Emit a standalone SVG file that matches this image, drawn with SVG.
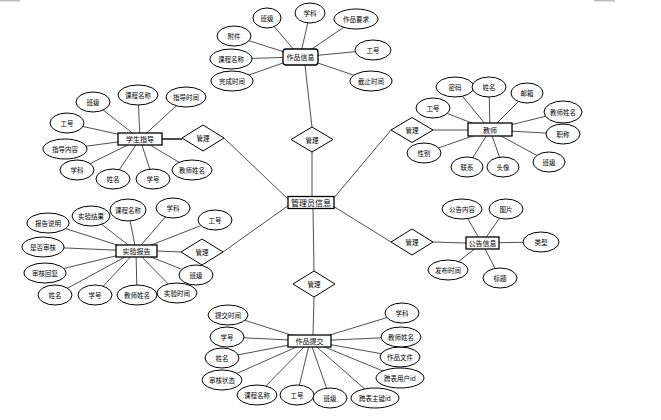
<svg xmlns="http://www.w3.org/2000/svg" width="661" height="420" viewBox="0 0 661 420">
<style>
text{font-family:"Noto Sans CJK SC","Noto Sans",sans-serif;font-size:6.5px;text-anchor:middle;dominant-baseline:central;fill:#000}
.t{font-size:7px}
.tb{font-size:8px}
.a{fill:#fff;stroke:#000;stroke-width:1}
.e{fill:#fff;stroke:#000;stroke-width:1.3}
.c line{stroke:#222;stroke-width:0.8}
.m{stroke:#bbb;stroke-width:2}
</style>
<line class="m" x1="0" y1="0.5" x2="20" y2="0.5"/>
<line class="m" x1="594" y1="0.5" x2="615" y2="0.5"/>
<g class="c" id="connectors">
<line x1="300" y1="57" x2="267" y2="18"/>
<line x1="300" y1="57" x2="310" y2="13"/>
<line x1="300" y1="57" x2="356" y2="19"/>
<line x1="300" y1="57" x2="373" y2="50"/>
<line x1="300" y1="57" x2="371" y2="81"/>
<line x1="300" y1="57" x2="234" y2="36"/>
<line x1="300" y1="57" x2="231" y2="59"/>
<line x1="300" y1="57" x2="232" y2="81"/>
<line x1="305" y1="65" x2="312" y2="127"/>
<line x1="312" y1="152" x2="312" y2="197"/>
<line x1="490" y1="130" x2="433" y2="108"/>
<line x1="490" y1="130" x2="455" y2="87"/>
<line x1="490" y1="130" x2="489" y2="87"/>
<line x1="490" y1="130" x2="527" y2="93"/>
<line x1="490" y1="130" x2="563" y2="112"/>
<line x1="490" y1="130" x2="563" y2="134"/>
<line x1="490" y1="130" x2="549" y2="162"/>
<line x1="490" y1="130" x2="503" y2="167"/>
<line x1="490" y1="130" x2="467" y2="167"/>
<line x1="490" y1="130" x2="424" y2="153"/>
<line x1="433" y1="130" x2="468" y2="130"/>
<line x1="391" y1="130" x2="333" y2="199"/>
<line x1="140" y1="139" x2="93" y2="102"/>
<line x1="140" y1="139" x2="138" y2="95"/>
<line x1="140" y1="139" x2="186" y2="97"/>
<line x1="140" y1="139" x2="67" y2="123"/>
<line x1="140" y1="139" x2="65" y2="149"/>
<line x1="140" y1="139" x2="77" y2="170"/>
<line x1="140" y1="139" x2="113" y2="179"/>
<line x1="140" y1="139" x2="153" y2="179"/>
<line x1="140" y1="139" x2="192" y2="170"/>
<line x1="162" y1="139" x2="182" y2="139" style="stroke-width:1.6"/>
<line x1="224" y1="138" x2="289" y2="200"/>
<line x1="136" y1="251" x2="91" y2="216"/>
<line x1="136" y1="251" x2="128" y2="210"/>
<line x1="136" y1="251" x2="173" y2="208"/>
<line x1="136" y1="251" x2="215" y2="220"/>
<line x1="136" y1="251" x2="48" y2="223"/>
<line x1="136" y1="251" x2="43" y2="247"/>
<line x1="136" y1="251" x2="45" y2="273"/>
<line x1="136" y1="251" x2="55" y2="295"/>
<line x1="136" y1="251" x2="95" y2="295"/>
<line x1="136" y1="251" x2="137" y2="295"/>
<line x1="136" y1="251" x2="177" y2="293"/>
<line x1="136" y1="251" x2="196" y2="275"/>
<line x1="157" y1="251" x2="181" y2="252"/>
<line x1="223" y1="252" x2="289" y2="205"/>
<line x1="310" y1="341" x2="228" y2="315"/>
<line x1="310" y1="341" x2="227" y2="337"/>
<line x1="310" y1="341" x2="222" y2="358"/>
<line x1="310" y1="341" x2="222" y2="380"/>
<line x1="310" y1="341" x2="257" y2="395"/>
<line x1="310" y1="341" x2="297" y2="395"/>
<line x1="310" y1="341" x2="330" y2="398"/>
<line x1="310" y1="341" x2="375" y2="398"/>
<line x1="310" y1="341" x2="400" y2="378"/>
<line x1="310" y1="341" x2="400" y2="357"/>
<line x1="310" y1="341" x2="401" y2="337"/>
<line x1="310" y1="341" x2="402" y2="313"/>
<line x1="313" y1="335" x2="314" y2="297"/>
<line x1="314" y1="271" x2="313" y2="208"/>
<line x1="482" y1="243" x2="462" y2="209"/>
<line x1="482" y1="243" x2="506" y2="209"/>
<line x1="482" y1="243" x2="541" y2="242"/>
<line x1="482" y1="243" x2="448" y2="270"/>
<line x1="482" y1="243" x2="500" y2="278"/>
<line x1="433" y1="242" x2="466" y2="243"/>
<line x1="391" y1="242" x2="333" y2="206"/>
</g>
<g id="admin"><rect class="e" x="288" y="196.5" width="46" height="12"/><text class="tb" x="311" y="202.5">管理员信息</text></g>
<g id="rel-top"><polygon class="a" points="312,127 333,139.5 312,152 291,139.5"/><text x="312" y="139.5">管理</text></g>
<g id="rel-teacher"><polygon class="a" points="412,117.5 433,130 412,142.5 391,130"/><text x="412" y="130">管理</text></g>
<g id="rel-guide"><polygon class="a" points="203,125 224,138 203,151 182,138"/><text x="203" y="138">管理</text></g>
<g id="rel-report"><polygon class="a" points="202,239 223,252 202,265 181,252"/><text x="202" y="252">管理</text></g>
<g id="rel-submit"><polygon class="a" points="314,271 335,284 314,297 293,284"/><text x="314" y="284">管理</text></g>
<g id="rel-notice"><polygon class="a" points="412,229 433,242 412,255 391,242"/><text x="412" y="242">管理</text></g>
<g id="work">
<rect class="e" x="283" y="49" width="35" height="16" rx="3"/><text class="t" x="300.5" y="57">作品信息</text>
<ellipse class="a" cx="267" cy="18" rx="14" ry="10"/><text x="267" y="18">班级</text>
<ellipse class="a" cx="310" cy="13" rx="15" ry="10"/><text x="310" y="13">学科</text>
<ellipse class="a" cx="356" cy="19" rx="22" ry="10"/><text x="356" y="19">作品要求</text>
<ellipse class="a" cx="373" cy="50" rx="18" ry="10"/><text x="373" y="50">工号</text>
<ellipse class="a" cx="371" cy="81" rx="21" ry="10"/><text x="371" y="81">截止时间</text>
<ellipse class="a" cx="234" cy="36" rx="17" ry="10"/><text x="234" y="36">附件</text>
<ellipse class="a" cx="231" cy="59" rx="21" ry="10"/><text x="231" y="59">课程名称</text>
<ellipse class="a" cx="232" cy="81" rx="21" ry="10"/><text x="232" y="81">完成时间</text>
</g>
<g id="teacher">
<rect class="e" x="468" y="123" width="44" height="13"/><text class="t" x="490" y="129.5">教师</text>
<ellipse class="a" cx="433" cy="108" rx="17" ry="10"/><text x="433" y="108">工号</text>
<ellipse class="a" cx="455" cy="87" rx="19" ry="10"/><text x="455" y="87">密码</text>
<ellipse class="a" cx="489" cy="87" rx="17" ry="10"/><text x="489" y="87">姓名</text>
<ellipse class="a" cx="527" cy="93" rx="16" ry="10"/><text x="527" y="93">邮箱</text>
<ellipse class="a" cx="563" cy="112" rx="19" ry="11"/><text x="563" y="112">教师姓名</text>
<ellipse class="a" cx="563" cy="134" rx="17" ry="10"/><text x="563" y="134">职称</text>
<ellipse class="a" cx="549" cy="162" rx="16" ry="10"/><text x="549" y="162">班级</text>
<ellipse class="a" cx="503" cy="167" rx="16" ry="10"/><text x="503" y="167">头像</text>
<ellipse class="a" cx="467" cy="167" rx="16" ry="10"/><text x="467" y="167">联系</text>
<ellipse class="a" cx="424" cy="153" rx="17" ry="10"/><text x="424" y="153">性别</text>
</g>
<g id="guide">
<rect class="e" x="118" y="133" width="44" height="12"/><text class="t" x="140" y="139">学生指导</text>
<ellipse class="a" cx="93" cy="102" rx="17" ry="10"/><text x="93" y="102">班级</text>
<ellipse class="a" cx="138" cy="95" rx="20" ry="10"/><text x="138" y="95">课程名称</text>
<ellipse class="a" cx="186" cy="97" rx="20" ry="10"/><text x="186" y="97">指导时间</text>
<ellipse class="a" cx="67" cy="123" rx="17" ry="10"/><text x="67" y="123">工号</text>
<ellipse class="a" cx="65" cy="149" rx="22" ry="10"/><text x="65" y="149">指导内容</text>
<ellipse class="a" cx="77" cy="170" rx="17" ry="10"/><text x="77" y="170">学科</text>
<ellipse class="a" cx="113" cy="179" rx="17" ry="10"/><text x="113" y="179">姓名</text>
<ellipse class="a" cx="153" cy="179" rx="17" ry="10"/><text x="153" y="179">学号</text>
<ellipse class="a" cx="192" cy="170" rx="20" ry="10"/><text x="192" y="170">教师姓名</text>
</g>
<g id="report">
<rect class="e" x="116" y="245" width="41" height="12"/><text class="t" x="136.5" y="251">实验报告</text>
<ellipse class="a" cx="91" cy="216" rx="19" ry="10"/><text x="91" y="216">实验结果</text>
<ellipse class="a" cx="128" cy="210" rx="18" ry="11"/><text x="128" y="210">课程名称</text>
<ellipse class="a" cx="173" cy="208" rx="17" ry="10"/><text x="173" y="208">学科</text>
<ellipse class="a" cx="215" cy="220" rx="17" ry="10"/><text x="215" y="220">工号</text>
<ellipse class="a" cx="48" cy="223" rx="21" ry="10"/><text x="48" y="223">报告说明</text>
<ellipse class="a" cx="43" cy="247" rx="21" ry="10"/><text x="43" y="247">是否审核</text>
<ellipse class="a" cx="45" cy="273" rx="21" ry="10"/><text x="45" y="273">审核回复</text>
<ellipse class="a" cx="55" cy="295" rx="17" ry="10"/><text x="55" y="295">姓名</text>
<ellipse class="a" cx="95" cy="295" rx="17" ry="10"/><text x="95" y="295">学号</text>
<ellipse class="a" cx="137" cy="295" rx="20" ry="10"/><text x="137" y="295">教师姓名</text>
<ellipse class="a" cx="177" cy="293" rx="20" ry="10"/><text x="177" y="293">实验时间</text>
<ellipse class="a" cx="196" cy="275" rx="17" ry="10"/><text x="196" y="275">班级</text>
</g>
<g id="submit">
<rect class="e" x="288" y="335" width="43" height="12"/><text class="t" x="309.5" y="341">作品提交</text>
<ellipse class="a" cx="228" cy="315" rx="20" ry="10"/><text x="228" y="315">提交时间</text>
<ellipse class="a" cx="227" cy="337" rx="17" ry="10"/><text x="227" y="337">学号</text>
<ellipse class="a" cx="222" cy="358" rx="17" ry="10"/><text x="222" y="358">姓名</text>
<ellipse class="a" cx="222" cy="380" rx="20" ry="10"/><text x="222" y="380">审核状态</text>
<ellipse class="a" cx="257" cy="395" rx="20" ry="10"/><text x="257" y="395">课程名称</text>
<ellipse class="a" cx="297" cy="395" rx="17" ry="10"/><text x="297" y="395">工号</text>
<ellipse class="a" cx="330" cy="398" rx="17" ry="10"/><text x="330" y="398">班级</text>
<ellipse class="a" cx="375" cy="398" rx="24" ry="10"/><text x="375" y="398">跨表主键id</text>
<ellipse class="a" cx="400" cy="378" rx="24" ry="10"/><text x="400" y="378">跨表用户id</text>
<ellipse class="a" cx="400" cy="357" rx="20" ry="10"/><text x="400" y="357">作品文件</text>
<ellipse class="a" cx="401" cy="337" rx="20" ry="10"/><text x="401" y="337">教师姓名</text>
<ellipse class="a" cx="402" cy="313" rx="17" ry="10"/><text x="402" y="313">学科</text>
</g>
<g id="notice">
<rect class="e" x="466" y="237" width="33" height="12"/><text class="t" x="482.5" y="243">公告信息</text>
<ellipse class="a" cx="462" cy="209" rx="20" ry="10"/><text x="462" y="209">公告内容</text>
<ellipse class="a" cx="506" cy="209" rx="17" ry="10"/><text x="506" y="209">图片</text>
<ellipse class="a" cx="541" cy="242" rx="18" ry="10"/><text x="541" y="242">类型</text>
<ellipse class="a" cx="448" cy="270" rx="20" ry="10"/><text x="448" y="270">发布时间</text>
<ellipse class="a" cx="500" cy="278" rx="17" ry="10"/><text x="500" y="278">标题</text>
</g>
</svg>
